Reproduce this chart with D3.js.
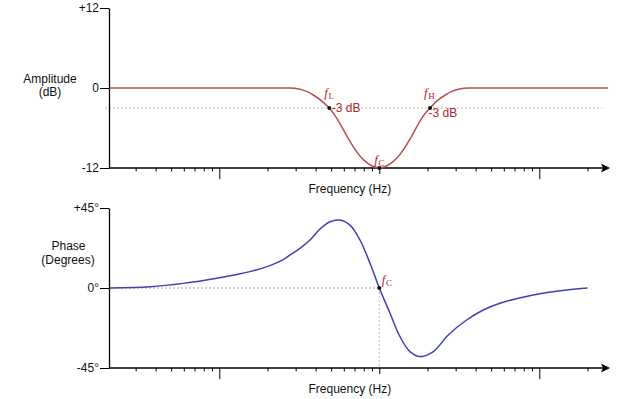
<!DOCTYPE html>
<html>
<head>
<meta charset="utf-8">
<script src="https://cdn.jsdelivr.net/npm/d3@7"></script>
<style>
  body { margin: 0; background: #fff; }
  svg { display: block; font-family: "Liberation Sans", Arial, Helvetica, sans-serif; }
</style>
</head>
<body>
<svg id="vis" width="619" height="399"></svg>
<script>
// amplitude response (frequency in Hz, level in dB)
const ampFreq = [2.06, 10, 20, 27.6, 31.9, 35.5, 38.7, 43.4, 48.7, 52.8, 58.2, 64, 70.5, 77.6,
                 85.3, 92.7, 100, 107.9, 117.2, 128.9, 141.9, 156.2, 171.8, 189.3, 207.6, 230.5,
                 258.5, 281.8, 313, 361.8, 1000, 2690];
const ampDb = [0, 0, 0, 0, -0.18, -0.55, -1.05, -1.9, -3, -4.1, -5.8, -7.6, -9.2, -10.5,
               -11.35, -11.82, -12, -11.82, -11.35, -10.5, -9.2, -7.6, -5.8, -4.1, -3, -1.9,
               -1.05, -0.55, -0.18, 0, 0, 0];

// phase response (frequency in Hz, degrees)
const phaseFreq = [2.06, 3.69, 5.96, 9.64, 15.55, 20.7, 25.1, 27.7, 31.9, 36.9, 42.6, 49.2, 56.2,
                   65.6, 75.7, 87.5, 100, 116.7, 134.7, 155.5, 179.6, 217.6, 269.8, 351.4, 446.7,
                   567.7, 917, 1483, 2000];
const phaseDeg = [0, 0.7, 2.6, 5.5, 9.2, 12.6, 16.0, 18.6, 22.3, 27, 33.2, 37.3, 38.25,
                  35.4, 27, 13.9, 0, -14.2, -27.4, -35.8, -38.6, -35.8, -26.4, -18, -12.4,
                  -8.6, -3.9, -1.1, 0];

// x-axis ticks
const minorTicks = [3, 4, 5, 6, 7, 8, 9, 20, 30, 40, 50, 60, 70, 80, 90,
                    200, 300, 400, 500, 600, 700, 800, 900, 2000];
const midTicks = [100];
const majorTicks = [10, 1000];

// y-axis ticks
const ampTicks = [12, 0, -12];
const ampTickLabels = ["+12", "0", "-12"];
const phaseTicks = [45, 0, -45];
const phaseTickLabels = ["+45°", "0°", "-45°"];

// marked points
const fL = 48.7, fH = 207.6, fC = 100, cutDb = -3;

const svg = d3.select("#vis");
const RED = "#b5504f", LABEL_RED = "#b0282a", BLUE = "#4040b0";

const x = d3.scaleLog().domain([10, 1000]).range([219.3, 539.3]);
const xLeft = 109, xArrow = 610;

const yAmp = d3.scaleLinear().domain([-12, 12]).range([168, 8]);
const yPh = d3.scaleLinear().domain([-45, 45]).range([368, 208]);

function freqAxis(yPos) {
  const g = svg.append("g");
  // tick marks
  [[minorTicks, 3.5], [midTicks, 6], [majorTicks, 11]].forEach(([vals, len]) => {
    g.append("g")
      .attr("transform", `translate(0,${yPos})`)
      .call(d3.axisBottom(x).tickValues(vals).tickSize(len).tickFormat(""))
      .call(a => a.select(".domain").remove())
      .selectAll("line").attr("stroke", "#000").attr("stroke-width", 1);
  });
  g.append("line")
    .attr("x1", xLeft).attr("x2", xArrow - 6)
    .attr("y1", yPos).attr("y2", yPos)
    .attr("stroke", "#000").attr("stroke-width", 1.3);
  g.append("path")
    .attr("d", `M${xArrow},${yPos} L${xArrow - 9},${yPos - 4.5} L${xArrow - 7},${yPos} L${xArrow - 9},${yPos + 4.5} Z`)
    .attr("fill", "#000");
  g.append("text")
    .attr("x", 308.5).attr("y", yPos + 25)
    .attr("font-size", 12).attr("fill", "#111")
    .text("Frequency (Hz)");
}

function valueAxis(scale, vals, labels) {
  svg.append("g")
    .attr("transform", `translate(${xLeft},0)`)
    .call(d3.axisLeft(scale).tickValues(vals).tickSize(9).tickSizeOuter(0).tickPadding(1)
      .tickFormat((d, i) => labels[i]))
    .call(a => a.select(".domain").attr("stroke-width", 1.3))
    .call(a => a.selectAll("text").attr("font-size", 12).attr("fill", "#111")
      .attr("font-family", "'Liberation Sans', Arial, sans-serif"));
}

function fLabel(xp, yp, sub) {
  const t = svg.append("text").attr("x", xp).attr("y", yp).attr("fill", LABEL_RED)
    .attr("font-family", "'Liberation Serif', 'DejaVu Serif', serif");
  t.append("tspan").attr("font-style", "italic").attr("font-size", 13).text("f");
  t.append("tspan").attr("font-size", 9).attr("dx", 0.5).attr("dy", 2).text(sub);
}

// ---------- amplitude chart ----------
svg.append("line")
  .attr("x1", 105).attr("x2", 602)
  .attr("y1", yAmp(cutDb)).attr("y2", yAmp(cutDb))
  .attr("stroke", "#9a9a9a").attr("stroke-width", 0.7).attr("stroke-dasharray", "2,2");

freqAxis(yAmp(-12));
valueAxis(yAmp, ampTicks, ampTickLabels);

const ampData = ampFreq.map((f, i) => ({ f: f, v: ampDb[i] }));
svg.append("path")
  .datum(ampData)
  .attr("fill", "none").attr("stroke", RED).attr("stroke-width", 1.5)
  .attr("d", d3.line().x(d => x(d.f)).y(d => yAmp(d.v)).curve(d3.curveMonotoneX));

[[fL, cutDb], [fH, cutDb], [fC, -12]].forEach(([f, v]) => {
  svg.append("circle").attr("cx", x(f)).attr("cy", yAmp(v)).attr("r", 2).attr("fill", "#111");
});

fLabel(x(fL) - 5, yAmp(cutDb) - 11, "L");
fLabel(x(fH) - 6, yAmp(cutDb) - 11, "H");
fLabel(x(fC) - 5, yAmp(-12) - 4, "C");

svg.append("text").attr("x", x(fL) + 2.5).attr("y", yAmp(cutDb) + 4.2)
  .attr("font-size", 12).attr("fill", LABEL_RED).text("-3 dB");
svg.append("text").attr("x", x(fH) - 1.5).attr("y", yAmp(cutDb) + 9)
  .attr("font-size", 12).attr("fill", LABEL_RED).text("-3 dB");

svg.append("text").attr("x", 50).attr("y", 82.5).attr("text-anchor", "middle")
  .attr("font-size", 12).attr("fill", "#111").text("Amplitude");
svg.append("text").attr("x", 50).attr("y", 95.5).attr("text-anchor", "middle")
  .attr("font-size", 12).attr("fill", "#111").text("(dB)");

// ---------- phase chart ----------
svg.append("line")
  .attr("x1", xLeft).attr("x2", x(fC))
  .attr("y1", yPh(0)).attr("y2", yPh(0))
  .attr("stroke", "#c4c4c4").attr("stroke-width", 1.6).attr("stroke-dasharray", "2,2");
svg.append("line")
  .attr("x1", x(fC)).attr("x2", x(fC))
  .attr("y1", yPh(0)).attr("y2", yPh(-45))
  .attr("stroke", "#a8a8a8").attr("stroke-width", 0.7).attr("stroke-dasharray", "2,2");

freqAxis(yPh(-45));
valueAxis(yPh, phaseTicks, phaseTickLabels);

const phaseData = phaseFreq.map((f, i) => ({ f: f, v: phaseDeg[i] }));
svg.append("path")
  .datum(phaseData)
  .attr("fill", "none").attr("stroke", BLUE).attr("stroke-width", 1.5)
  .attr("d", d3.line().x(d => x(d.f)).y(d => yPh(d.v)).curve(d3.curveCatmullRom.alpha(0.5)));

svg.append("circle").attr("cx", x(fC)).attr("cy", yPh(0)).attr("r", 2).attr("fill", "#111");
fLabel(x(fC) + 2.5, yPh(0) - 4, "C");

svg.append("text").attr("x", 68.5).attr("y", 250).attr("text-anchor", "middle")
  .attr("font-size", 12).attr("fill", "#111").text("Phase");
svg.append("text").attr("x", 68).attr("y", 263.5).attr("text-anchor", "middle")
  .attr("font-size", 12).attr("fill", "#111").text("(Degrees)");
</script>
</body>
</html>
